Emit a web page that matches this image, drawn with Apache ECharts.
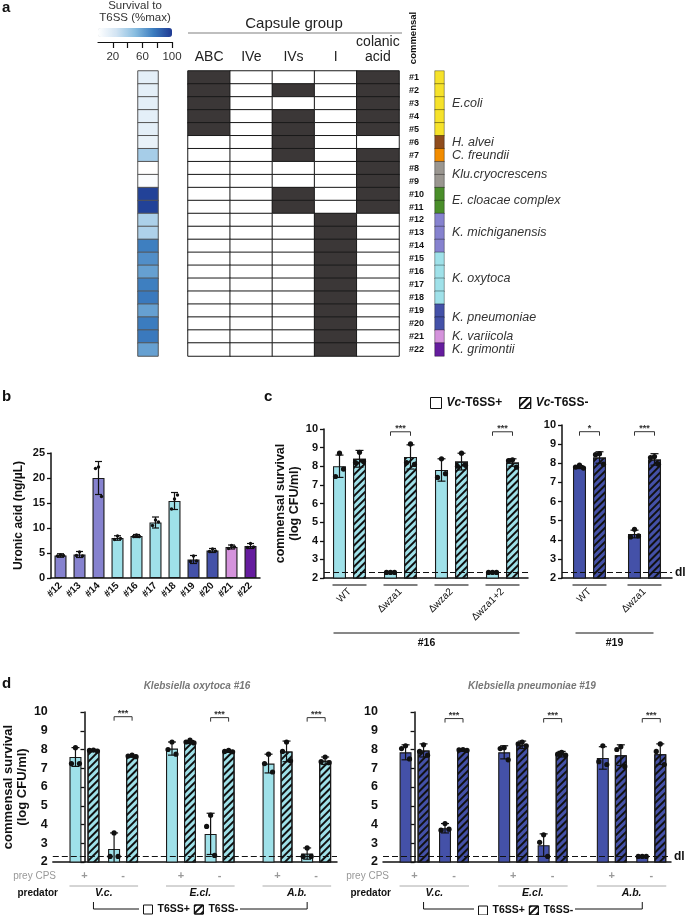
<!DOCTYPE html>
<html><head><meta charset="utf-8">
<script src="https://cdn.jsdelivr.net/npm/echarts@6/dist/echarts.min.js"></script>
<style>html,body{margin:0;padding:0;background:#fff}#c{width:685px;height:915px}</style>
</head><body><div id="c"></div>
<script>
// ================= DATA =================
// Panel a
const strains = ['#1','#2','#3','#4','#5','#6','#7','#8','#9','#10','#11','#12','#13','#14','#15','#16','#17','#18','#19','#20','#21','#22'];
const capsuleGroups = ['ABC','IVe','IVs','I','colanic\nacid'];
const capsuleMatrix = [
  [1,0,0,0,1],[1,0,1,0,1],[1,0,0,0,1],[1,0,1,0,1],[1,0,1,0,1],
  [0,0,1,0,0],[0,0,1,0,1],[0,0,0,0,1],[0,0,0,0,1],[0,0,1,0,1],[0,0,1,0,1],
  [0,0,0,1,0],[0,0,0,1,0],[0,0,0,1,0],[0,0,0,1,0],[0,0,0,1,0],[0,0,0,1,0],
  [0,0,0,1,0],[0,0,0,1,0],[0,0,0,1,0],[0,0,0,1,0],[0,0,0,1,0]
];
const survivalPct = [15,15,15,15,15,12,40,0,3,97,97,38,37,74,68,61,74,76,61,75,76,61];
const colorbarTicks = [20,60,100];
const speciesNames = ['E.coli','H. alvei','C. freundii','Klu.cryocrescens','E. cloacae complex','K. michiganensis','K. oxytoca','K. pneumoniae','K. variicola','K. grimontii'];
const speciesOfStrain = [0,0,0,0,0,1,2,3,3,4,4,5,5,5,6,6,6,6,7,7,8,9];

// Panel b
const uronicStrains = ['#12','#13','#14','#15','#16','#17','#18','#19','#20','#21','#22'];
const uronicMean = [4.5,4.7,20.0,8.0,8.4,11.1,15.4,3.7,5.5,6.2,6.4];
const uronicSD   = [0.35,0.6,3.3,0.45,0.3,1.1,1.7,0.8,0.4,0.4,0.5];
const uronicPts  = [[4.6,4.4,4.5],[5.2,4.5,4.4],[22.2,21.9,16.3],[8.4,7.7,7.9],[8.6,8.3,8.3],[11.6,10.5,11.2],[15.8,13.8,16.6],[4.4,3.3,3.4],[5.8,5.3,5.4],[6.5,5.9,6.2],[6.9,6.1,6.2]];

// Panel c
const cStrains16 = ['WT','\u2206wza1','\u2206wza2','\u2206wza1+2'];
const c16Plus    = [8.0, 2.3, 7.8, 2.3];
const c16PlusSD  = [0.6, 0, 0.6, 0];
const c16PlusPts = [[8.7,7.45,7.85],[2.3,2.3,2.3],[8.4,7.4,7.6],[2.3,2.3,2.3]];
const c16Minus    = [8.4, 8.5, 8.25, 8.2];
const c16MinusSD  = [0.45, 0.65, 0.45, 0.2];
const c16MinusPts = [[8.75,8.2,8.25],[9.2,8.2,8.1],[8.7,8.0,8.05],[8.35,8.3,7.95]];
const c16Sig = [[1, 9.85, '***'], [3, 9.85, '***']];
const cStrains19 = ['WT','\u2206wza1'];
const c19Plus    = [7.8, 4.3];
const c19PlusSD  = [0.08, 0.2];
const c19PlusPts = [[7.9,7.8,7.75],[4.55,4.15,4.2]];
const c19Minus    = [8.3, 8.2];
const c19MinusSD  = [0.3, 0.3];
const c19MinusPts = [[8.5,8.45,7.95],[8.35,8.3,7.95]];
const c19Sig = [[0, 9.65, '*'], [1, 9.65, '***']];
const detectionLimit = 2.3;

// Panel d  (order: V.c.+, V.c.-, E.cl.+, E.cl.-, A.b.+, A.b.-)
const predators = ['V.c.','E.cl.','A.b.'];
const preyCPS = ['+','-'];
const d16Plus    = [7.6, 2.7, 8.05, 3.5, 7.25, 2.45];
const d16PlusSD  = [0.5, 0.85, 0.35, 1.1, 0.5, 0.3];
const d16PlusPts = [[8.1,7.25,7.25],[3.55,2.3,2.3],[8.4,8.0,7.75],[4.5,3.9,2.35],[7.75,7.25,6.8],[2.75,2.3,2.3]];
const d16Minus    = [7.95, 7.65, 8.4, 7.9, 7.9, 7.4];
const d16MinusSD  = [0.05, 0.05, 0.08, 0.05, 0.55, 0.2];
const d16MinusPts = [[7.97,7.95,7.92],[7.7,7.65,7.62],[8.5,8.4,8.35],[7.95,7.9,7.88],[8.4,7.9,7.4],[7.6,7.35,7.3]];
const d16Sig = [[1, 9.75, '***'], [3, 9.7, '***'], [5, 9.7, '***']];
const d19Plus    = [7.85, 3.8, 7.85, 2.9, 7.55, 2.3];
const d19PlusSD  = [0.4, 0.25, 0.35, 0.6, 0.6, 0];
const d19PlusPts = [[8.2,8.05,7.5],[4.05,3.7,3.75],[8.1,8.05,7.45],[3.45,3.05,2.3],[8.2,7.35,7.2],[2.3,2.3,2.3]];
const d19Minus    = [7.95, 7.97, 8.25, 7.75, 7.7, 7.75];
const d19MinusSD  = [0.35, 0.05, 0.2, 0.15, 0.55, 0.55];
const d19MinusPts = [[8.25,7.9,7.7],[8.0,7.98,7.95],[8.4,8.3,8.2],[7.85,7.75,7.7],[8.15,8.0,7.1],[8.3,7.9,7.2]];
const d19Sig = [[1, 9.65, '***'], [3, 9.65, '***'], [5, 9.65, '***']];

// ================= STYLE / LAYOUT =================
const FONT = '"Liberation Sans", Arial, sans-serif';
const speciesColors = ['#f6e22a','#8f4c1c','#f28c00','#9a9690','#4a8e2a','#8682cf','#9fe1e9','#4451a8','#d593dc','#651c9e'];
const CYAN = '#9fe1e9', BLUE = '#4451a8';
const HATCH = {symbol:'rect', symbolSize:1, dashArrayX:[1,0], dashArrayY:[2,3], rotation:-Math.PI/4, color:'#111'};
const G = {
  surv:{left:138, top:71, width:20, height:285},
  caps:{left:188, top:71, width:211, height:285},
  spec:{left:435, top:71, width:9, height:285},
  cbar:{left:98, top:41, width:74, height:1},
  b:{left:51, top:453, width:209, height:125},
  c16:{left:324, top:429, width:204, height:149},
  c19:{left:562, top:425, width:110, height:153},
  d16:{left:50, top:712, width:287, height:150},
  d19:{left:383, top:712, width:288, height:150}
};
const dPos = predators.flatMap((p, g) => preyCPS.map((c, j) => g * 2.5 + j));

function errItems(xs, mean, sd, pts) {
  return mean.map((m, i) => [xs[i], m, sd[i], pts[i][0], pts[i][1], pts[i][2]]);
}
function errRender(off, o) {
  return function (params, api) {
    const x = api.value(0), m = api.value(1), s = api.value(2);
    const lo = Math.max(m - s, o.floor), hi = m + s;
    const pHi = api.coord([x, hi]), pLo = api.coord([x, lo]);
    const cx = pHi[0] + off;
    const st = {stroke:'#111', lineWidth:1.2};
    const ch = [];
    if (s > 0) {
      ch.push({type:'line', shape:{x1:cx, y1:pHi[1], x2:cx, y2:pLo[1]}, style:st});
      ch.push({type:'line', shape:{x1:cx-o.cap, y1:pHi[1], x2:cx+o.cap, y2:pHi[1]}, style:st});
      if (m - s > o.floor) ch.push({type:'line', shape:{x1:cx-o.cap, y1:pLo[1], x2:cx+o.cap, y2:pLo[1]}, style:st});
    }
    for (let k = 0; k < 3; k++) {
      const p = api.coord([x, api.value(3 + k)]);
      ch.push({type:'circle', shape:{cx:cx + o.jit[k], cy:p[1], r:o.r}, style:{fill:'#111'}});
    }
    return {type:'group', children:ch};
  };
}
function errSeries(ai, data, off, o) {
  return {type:'custom', xAxisIndex:ai, yAxisIndex:ai, data, encode:{x:0, y:1}, silent:true, z:5,
          renderItem:errRender(off, o)};
}
function sigSeries(ai, sig, xs, off) {
  return {type:'custom', xAxisIndex:ai, yAxisIndex:ai, silent:true, z:5, encode:{x:0, y:1},
    data: sig.map(s => [xs[s[0]], s[1]]),
    renderItem: function (params, api) {
      const p = api.coord([api.value(0), api.value(1)]);
      return {type:'group', children:[
        {type:'polyline', shape:{points:[[p[0]-off, p[1]+4],[p[0]-off, p[1]],[p[0]+off, p[1]],[p[0]+off, p[1]+4]]},
         style:{stroke:'#333', lineWidth:1, fill:'none'}},
        {type:'text', style:{text:sig[params.dataIndex][2], x:p[0], y:p[1]+1, align:'center', verticalAlign:'bottom',
         fontSize:9, fontWeight:'bold', fontFamily:FONT, fill:'#333'}}
      ]};
    }};
}
function dlLine(showLabel) {
  return {silent:true, symbol:'none', animation:false, data:[{yAxis:detectionLimit}],
    lineStyle:{type:[6,3], color:'#111', width:1.2},
    label:{show:showLabel, formatter:'dl', position:'end', fontWeight:'bold', fontSize:12, color:'#111', distance:3, fontFamily:FONT}};
}
const barBorder = {borderColor:'#1a1a1a', borderWidth:1.1};
function valY(ai, opt) {
  return Object.assign({gridIndex:ai, type:'value', min:2, max:10, interval:1, splitLine:{show:false},
    axisLine:{show:true, lineStyle:{color:'#111', width:1.5}},
    axisTick:{show:true, length:4, lineStyle:{color:'#111', width:1.3}},
    axisLabel:{fontSize:11, fontWeight:'bold', color:'#111', margin:6}}, opt || {});
}
const xLineAxis = {axisLine:{show:true, lineStyle:{color:'#111', width:1.5}}, axisTick:{show:false}, splitLine:{show:false}};

// ================= OPTION =================
const option = {
  animation:false,
  textStyle:{fontFamily:FONT},
  title:[
    {text:'a', left:2, top:0, padding:0, textStyle:{fontSize:15, fontWeight:'bold', color:'#111'}},
    {text:'b', left:2, top:389, padding:0, textStyle:{fontSize:15, fontWeight:'bold', color:'#111'}},
    {text:'c', left:264, top:389, padding:0, textStyle:{fontSize:15, fontWeight:'bold', color:'#111'}},
    {text:'d', left:2, top:676, padding:0, textStyle:{fontSize:15, fontWeight:'bold', color:'#111'}},
    {text:'Survival to\nT6SS (%max)', left:135, top:0, padding:0, textAlign:'center',
     textStyle:{fontSize:11.5, fontWeight:'normal', color:'#333', lineHeight:12}},
    {text:'Capsule group', left:294, top:16, padding:0, textAlign:'center',
     textStyle:{fontSize:15, fontWeight:'normal', color:'#222'}},
    {text:'Klebsiella oxytoca #16', left:197, top:681, padding:0, textAlign:'center',
     textStyle:{fontSize:10, fontWeight:'bold', fontStyle:'italic', color:'#777'}},
    {text:'Klebsiella pneumoniae #19', left:532, top:681, padding:0, textAlign:'center',
     textStyle:{fontSize:10, fontWeight:'bold', fontStyle:'italic', color:'#777'}}
  ],
  legend:[
    {data:['Vc-T6SS+','Vc-T6SS-'], left:430, top:397, padding:0, itemWidth:11, itemHeight:11, itemGap:17, icon:'rect',
     selectedMode:false, itemStyle:{color:'#fff', borderColor:'#111', borderWidth:1},
     formatter: n => '{i|Vc}{b|' + n.slice(2) + '}',
     textStyle:{rich:{i:{fontStyle:'italic', fontWeight:'bold', fontSize:12, color:'#111', fontFamily:FONT},
                      b:{fontWeight:'bold', fontSize:12, color:'#111', fontFamily:FONT}}}},
    {data:['T6SS+','T6SS-'], left:143, top:904, padding:0, itemWidth:9, itemHeight:9, itemGap:4, icon:'rect',
     selectedMode:false, itemStyle:{color:'#fff', borderColor:'#111', borderWidth:1},
     textStyle:{fontWeight:'bold', fontSize:10.5, color:'#111'}},
    {data:['T6SS+','T6SS-'], left:478, top:905, padding:0, itemWidth:9, itemHeight:9, itemGap:4, icon:'rect',
     selectedMode:false, itemStyle:{color:'#fff', borderColor:'#111', borderWidth:1},
     textStyle:{fontWeight:'bold', fontSize:10.5, color:'#111'}}
  ],
  visualMap:[
    {type:'continuous', seriesIndex:0, min:0, max:100, orient:'horizontal', left:G.cbar.left, top:28, padding:0,
     itemWidth:9, itemHeight:74, calculable:false, hoverLink:false, borderWidth:0,
     inRange:{color:['#ffffff','#d2e4f3','#88bde0','#3b7cbf','#1f3a93']}},
    {type:'piecewise', seriesIndex:1, show:false, pieces:[{value:0, color:'#ffffff'},{value:1, color:'#3b3737'}]},
    {type:'piecewise', seriesIndex:2, show:false, pieces:speciesColors.map((c, i) => ({value:i, color:c}))}
  ],
  grid:[G.surv, G.caps, G.spec, G.cbar, G.b, G.c16, G.c19, G.d16, G.d19],
  xAxis:[
    {gridIndex:0, type:'category', data:['survival'], show:false},
    {gridIndex:1, type:'category', data:capsuleGroups, position:'top', axisLine:{show:false}, axisTick:{show:false},
     axisLabel:{interval:0, fontSize:14, color:'#222', margin:6, lineHeight:15}},
    {gridIndex:2, type:'category', data:['species'], show:false},
    {gridIndex:3, type:'value', min:0, max:100, splitLine:{show:false},
     axisLine:{show:true, lineStyle:{color:'#111', width:1.2}},
     axisTick:{show:true, customValues:[20,40,60,80,100], length:6, lineStyle:{color:'#111', width:1.2}},
     axisLabel:{customValues:colorbarTicks, fontSize:11.5, color:'#333', margin:9}},
    Object.assign({gridIndex:4, type:'category', data:uronicStrains,
     axisLabel:{interval:0, rotate:45, fontSize:10, fontWeight:'bold', color:'#111', margin:6}}, xLineAxis),
    Object.assign({gridIndex:5, type:'category', data:cStrains16,
     axisLabel:{interval:0, rotate:45, fontSize:10, color:'#111', margin:12}}, xLineAxis),
    Object.assign({gridIndex:6, type:'category', data:cStrains19,
     axisLabel:{interval:0, rotate:45, fontSize:10, color:'#111', margin:12}}, xLineAxis),
    Object.assign({gridIndex:7, type:'value', min:-0.82, max:6.54, axisLabel:{show:false}}, xLineAxis),
    Object.assign({gridIndex:8, type:'value', min:-0.8, max:6.5, axisLabel:{show:false}}, xLineAxis)
  ],
  yAxis:[
    {gridIndex:0, type:'category', data:strains, inverse:true, show:false},
    {gridIndex:1, type:'category', data:strains, inverse:true, show:false},
    {gridIndex:2, type:'category', data:strains, inverse:true, axisLine:{show:false}, axisTick:{show:false},
     axisLabel:{interval:0, fontSize:9, fontWeight:'bold', color:'#111', align:'left', margin:26}},
    {gridIndex:3, type:'value', show:false},
    valY(4, {min:0, max:25, interval:5, name:'Uronic acid (ng/\u00b5L)', nameLocation:'middle', nameGap:26,
      nameTextStyle:{fontSize:12, fontWeight:'bold', color:'#111'}}),
    valY(5, {name:'commensal survival\n(log CFU/ml)', nameLocation:'middle', nameGap:20,
      nameTextStyle:{fontSize:12.5, fontWeight:'bold', color:'#111', lineHeight:14}}),
    valY(6),
    valY(7, {axisLabel:{fontSize:12.5, fontWeight:'bold', color:'#111', margin:5},
      name:'commensal survival\n(log CFU/ml)', nameLocation:'middle', nameGap:13,
      nameTextStyle:{fontSize:13, fontWeight:'bold', color:'#111', lineHeight:14.5}}),
    valY(8, {axisLabel:{fontSize:12.5, fontWeight:'bold', color:'#111', margin:5}})
  ],
  series:[
    {type:'heatmap', xAxisIndex:0, yAxisIndex:0, silent:true,
     data:survivalPct.map((v, r) => [0, r, v]), itemStyle:{borderColor:'#555', borderWidth:1}},
    {type:'heatmap', xAxisIndex:1, yAxisIndex:1, silent:true,
     data:capsuleMatrix.flatMap((row, r) => row.map((v, c) => [c, r, v])), itemStyle:{borderColor:'#1a1a1a', borderWidth:1}},
    {type:'heatmap', xAxisIndex:2, yAxisIndex:2, silent:true,
     data:speciesOfStrain.map((s, r) => [0, r, s]), itemStyle:{borderColor:'rgba(0,0,0,0.45)', borderWidth:0.8}},
    // panel b
    {type:'bar', xAxisIndex:4, yAxisIndex:4, barWidth:12, silent:true,
     data:uronicMean.map((v, i) => ({value:v, itemStyle:{color:speciesColors[speciesOfStrain[strains.indexOf(uronicStrains[i])]]}})),
     itemStyle:barBorder},
    errSeries(4, errItems(uronicStrains.map((s, i) => i), uronicMean, uronicSD, uronicPts), 0, {floor:0, cap:3.5, r:1.7, jit:[0,-3,3]}),
    // panel c #16
    {type:'bar', name:'Vc-T6SS+', xAxisIndex:5, yAxisIndex:5, barWidth:13, barGap:'54%', silent:true,
     data:c16Plus, itemStyle:Object.assign({color:CYAN}, barBorder), markLine:dlLine(false)},
    {type:'bar', name:'Vc-T6SS-', xAxisIndex:5, yAxisIndex:5, barWidth:13, barGap:'54%', silent:true,
     data:c16Minus, itemStyle:Object.assign({color:CYAN, decal:HATCH}, barBorder)},
    errSeries(5, errItems(cStrains16.map((s, i) => i), c16Plus, c16PlusSD, c16PlusPts), -10, {floor:2, cap:4, r:2.6, jit:[0,-4,4]}),
    errSeries(5, errItems(cStrains16.map((s, i) => i), c16Minus, c16MinusSD, c16MinusPts), 10, {floor:2, cap:4, r:2.6, jit:[0,-4,4]}),
    sigSeries(5, c16Sig, cStrains16.map((s, i) => i), 10),
    // panel c #19
    {type:'bar', name:'Vc-T6SS+', xAxisIndex:6, yAxisIndex:6, barWidth:13, barGap:'54%', silent:true,
     data:c19Plus, itemStyle:Object.assign({color:BLUE}, barBorder), markLine:dlLine(true)},
    {type:'bar', name:'Vc-T6SS-', xAxisIndex:6, yAxisIndex:6, barWidth:13, barGap:'54%', silent:true,
     data:c19Minus, itemStyle:Object.assign({color:BLUE, decal:HATCH}, barBorder)},
    errSeries(6, errItems([0,1], c19Plus, c19PlusSD, c19PlusPts), -10, {floor:2, cap:4, r:2.6, jit:[0,-4,4]}),
    errSeries(6, errItems([0,1], c19Minus, c19MinusSD, c19MinusPts), 10, {floor:2, cap:4, r:2.6, jit:[0,-4,4]}),
    sigSeries(6, c19Sig, [0,1], 10),
    // panel d #16
    {type:'bar', name:'T6SS+', xAxisIndex:7, yAxisIndex:7, barWidth:12, barGap:'50%', silent:true,
     data:d16Plus.map((v, k) => [dPos[k], v]), itemStyle:Object.assign({color:CYAN}, barBorder), markLine:dlLine(false)},
    {type:'bar', name:'T6SS-', xAxisIndex:7, yAxisIndex:7, barWidth:12, barGap:'50%', silent:true,
     data:d16Minus.map((v, k) => [dPos[k], v]), itemStyle:Object.assign({color:CYAN, decal:HATCH}, barBorder)},
    errSeries(7, errItems(dPos, d16Plus, d16PlusSD, d16PlusPts), -9, {floor:2, cap:4, r:2.6, jit:[0,-4,4]}),
    errSeries(7, errItems(dPos, d16Minus, d16MinusSD, d16MinusPts), 9, {floor:2, cap:4, r:2.6, jit:[0,-4,4]}),
    sigSeries(7, d16Sig, dPos, 9),
    // panel d #19
    {type:'bar', name:'T6SS+', xAxisIndex:8, yAxisIndex:8, barWidth:12, barGap:'50%', silent:true,
     data:d19Plus.map((v, k) => [dPos[k], v]), itemStyle:Object.assign({color:BLUE}, barBorder), markLine:dlLine(true)},
    {type:'bar', name:'T6SS-', xAxisIndex:8, yAxisIndex:8, barWidth:12, barGap:'50%', silent:true,
     data:d19Minus.map((v, k) => [dPos[k], v]), itemStyle:Object.assign({color:BLUE, decal:HATCH}, barBorder)},
    errSeries(8, errItems(dPos, d19Plus, d19PlusSD, d19PlusPts), -9, {floor:2, cap:4, r:2.6, jit:[0,-4,4]}),
    errSeries(8, errItems(dPos, d19Minus, d19MinusSD, d19MinusPts), 9, {floor:2, cap:4, r:2.6, jit:[0,-4,4]}),
    sigSeries(8, d19Sig, dPos, 9)
  ]
};

const chart = echarts.init(document.getElementById('c'));
chart.setOption(option);

// ================= ANNOTATIONS (positioned via the axes' scales) =================
const X = (ai, v) => chart.convertToPixel({xAxisIndex:ai}, v);
const Y = (ai, v) => chart.convertToPixel({yAxisIndex:ai}, v);
const gr = [];
function txt(x, y, text, o) {
  gr.push({type:'text', x, y, rotation:o.rot || 0, silent:true, style:{text, align:o.align || 'center', verticalAlign:o.va || 'middle',
    fontSize:o.size || 10, fontWeight:o.weight || 'normal', fontStyle:o.style || 'normal', fontFamily:FONT, fill:o.color || '#111'}});
}
function seg(x1, y1, x2, y2, color, w) {
  gr.push({type:'line', silent:true, shape:{x1, y1, x2, y2}, style:{stroke:color, lineWidth:w}});
}
// panel a
seg(G.caps.left, 33, G.caps.left + G.caps.width + 3, 33, '#aaa', 1.5);
txt(413, 38, 'commensal', {rot:Math.PI / 2, size:9.5, weight:'bold'});
speciesNames.forEach((nm, s) => {
  const ys = speciesOfStrain.map((sp, r) => sp === s ? Y(2, r) : null).filter(v => v !== null);
  txt(G.spec.left + 17, ys.reduce((a, b) => a + b, 0) / ys.length, nm, {align:'left', size:12.5, style:'italic', color:'#333'});
});
// panel c
function cAnnot(ai, g, cats, label, l, r) {
  const bottom = g.top + g.height;
  cats.forEach((c, i) => { const cx = X(ai, i); seg(cx - 17, bottom + 7, cx + 17, bottom + 7, '#555', 1.5); });
  const x0 = X(ai, 0) - l, x1 = X(ai, cats.length - 1) + r;
  seg(x0, bottom + 55, x1, bottom + 55, '#111', 1);
  txt((x0 + x1) / 2, bottom + 65, label, {size:10.5, weight:'bold'});
}
cAnnot(5, G.c16, cStrains16, '#16', 16, 17);
cAnnot(6, G.c19, cStrains19, '#19', 14, 9);
// panel d
function dAnnot(ai, g, legLeft, legWidth) {
  const bottom = g.top + g.height;
  dPos.forEach((p, k) => txt(X(ai, p), bottom + 14, preyCPS[k % 2], {size:11, color:'#999', weight:'bold'}));
  predators.forEach((pr, gi) => {
    const x0 = X(ai, dPos[2 * gi]) - 15, x1 = X(ai, dPos[2 * gi + 1]) + 15;
    seg(x0, bottom + 24, x1, bottom + 24, '#aaa', 1);
    txt((x0 + x1) / 2, bottom + 31, pr, {size:10.5, weight:'bold', style:'italic'});
  });
  txt(g.left + 6, bottom + 14, 'prey CPS', {align:'right', size:10, color:'#999'});
  txt(g.left + 8, bottom + 31, 'predator', {align:'right', size:10, weight:'bold'});
  const xl = X(ai, dPos[0]) + 9, xr = X(ai, dPos[5]) - 9, y0 = bottom + 40, y1 = bottom + 47;
  seg(xl, y0, xl, y1, '#111', 1); seg(xr, y0, xr, y1, '#111', 1);
  seg(xl, y1, legLeft - 4, y1, '#111', 1); seg(legLeft + legWidth + 4, y1, xr, y1, '#111', 1);
}
dAnnot(7, G.d16, 143, 93);
dAnnot(8, G.d19, 478, 93);
chart.setOption({graphic:gr});
</script></body></html>
